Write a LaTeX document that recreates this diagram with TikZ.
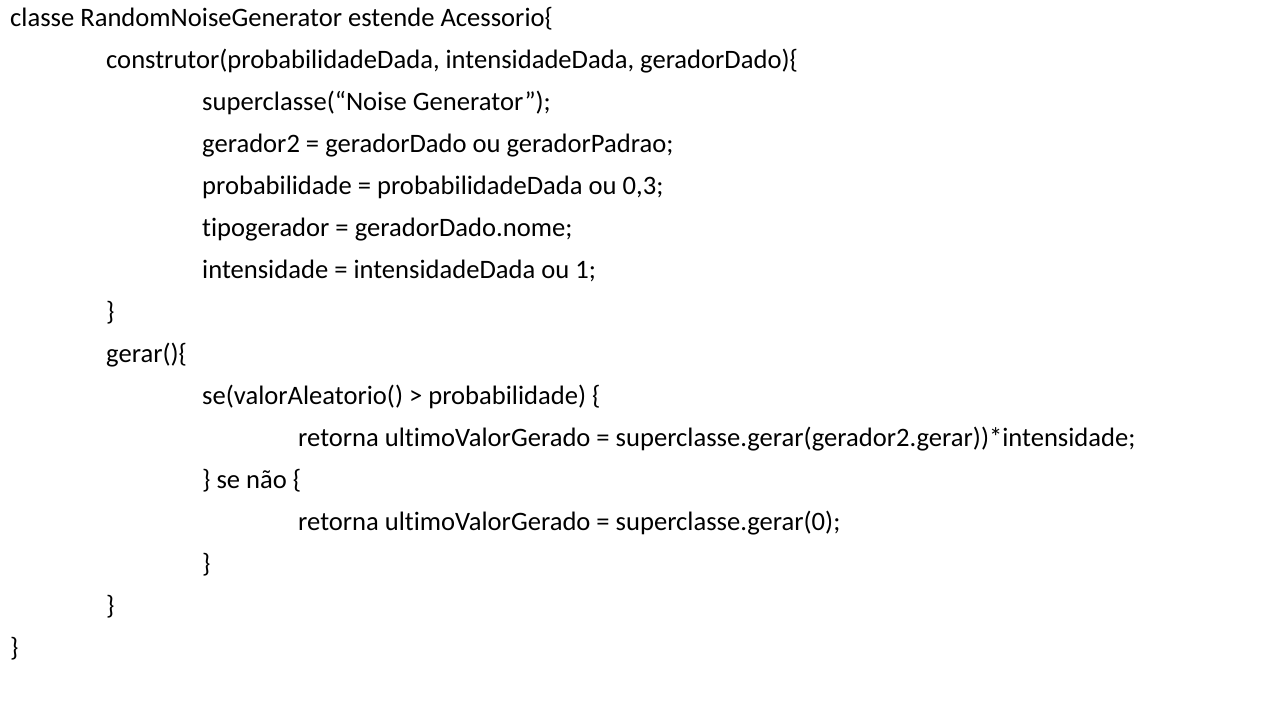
\documentclass[tikz,border=0pt]{standalone}
\usepackage{fontspec}
\setmainfont{Carlito}[Ligatures=NoCommon]
\begin{document}
\begin{tikzpicture}[x=1pt,y=1pt,
  codeline/.style={anchor=base west,inner sep=0pt,font=\fontsize{26.6}{30}\selectfont,text=black}]
\useasboundingbox[fill=white] (0,0) rectangle (1280,720);
\node[codeline] (l1) at (10,693) {classe RandomNoiseGenerator estende Acessorio\{};
\node[codeline] (l2) at (106,651) {construtor(probabilidadeDada, intensidadeDada, geradorDado)\{};
\node[codeline] (l3) at (202,609) {superclasse(“Noise Generator”);};
\node[codeline] (l4) at (202,567) {gerador2 = geradorDado ou geradorPadrao;};
\node[codeline] (l5) at (202,525) {probabilidade = probabilidadeDada ou 0,3;};
\node[codeline] (l6) at (202,483) {tipogerador = geradorDado.nome;};
\node[codeline] (l7) at (202,441) {intensidade = intensidadeDada ou 1;};
\node[codeline] (l8) at (106,399) {\}};
\node[codeline] (l9) at (106,357) {gerar()\{};
\node[codeline] (l10) at (202,315) {se(valorAleatorio() > probabilidade) \{};
\node[codeline] (l11) at (298,273) {retorna ultimoValorGerado = superclasse.gerar(gerador2.gerar))*intensidade;};
\node[codeline] (l12) at (202,231) {\} se não \{};
\node[codeline] (l13) at (298,189) {retorna ultimoValorGerado = superclasse.gerar(0);};
\node[codeline] (l14) at (202,147) {\}};
\node[codeline] (l15) at (106,105) {\}};
\node[codeline] (l16) at (10,63) {\}};
\end{tikzpicture}
\end{document}
